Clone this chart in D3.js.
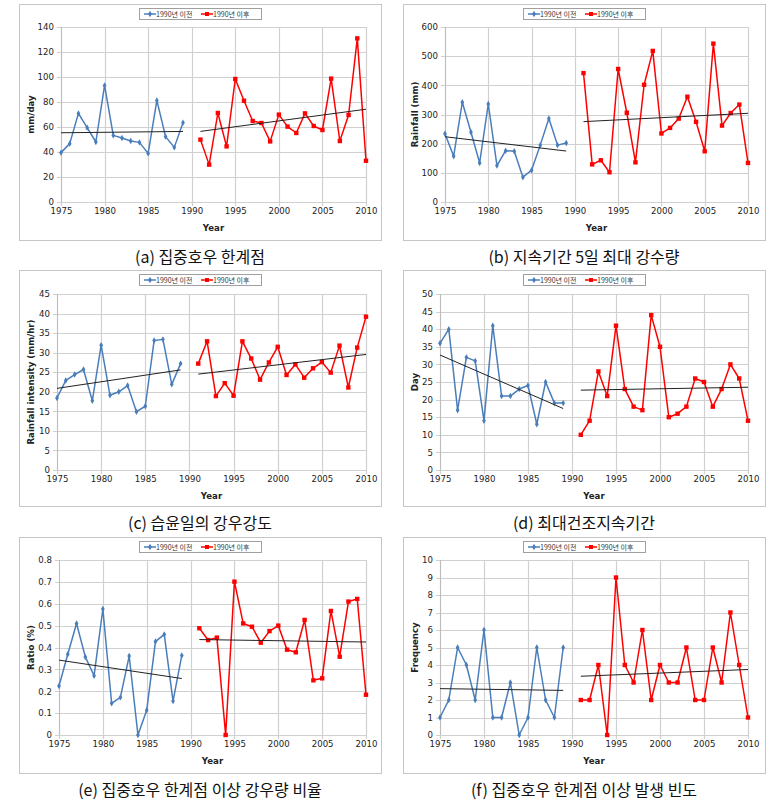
<!DOCTYPE html>
<html>
<head>
<meta charset="utf-8">
<script src="https://cdn.jsdelivr.net/npm/d3@7"></script>
<style>
  html, body { margin: 0; padding: 0; background: #fff; }
  svg { display: block; }
</style>
</head>
<body>
<svg id="chart" width="768" height="802"></svg>
<script>
// Years before and after 1990
const yearsBefore = [1975,1976,1977,1978,1979,1980,1981,1982,1983,1984,1985,1986,1987,1988,1989];
const yearsAfter  = [1991,1992,1993,1994,1995,1996,1997,1998,1999,2000,2001,2002,2003,2004,2005,2006,2007,2008,2009,2010];
const xTicks = [1975,1980,1985,1990,1995,2000,2005,2010];
const legendLabels = ["1990년 이전", "1990년 이후"];

// (a) threshold of heavy rain (mm/day)
const thresholdBefore = [39.5,46.7,70.9,59.5,48,93.3,53.3,51.2,48.8,47.7,38.9,81.3,52.3,43.7,63.5];
const thresholdAfter  = [49.9,29.9,71.2,44.5,98.4,81,64.8,63.2,48.5,69.9,60.3,55.2,70.9,60.8,57.6,98.7,48.8,69.6,130.9,33];
// (b) maximum 5-day rainfall (mm)
const max5dBefore = [234,157,342,239,134,336,125,176,174,85,109,195,286,195,202];
const max5dAfter  = [442,129,143,102,456,306,136,402,518,235,254,286,361,275,174,543,262,305,334,134];
// (c) rainfall intensity on wet days (mm/hr)
const intensityBefore = [18.4,22.9,24.4,25.7,17.7,31.9,19.1,20.0,21.6,14.9,16.3,33.1,33.4,21.9,27.2];
const intensityAfter  = [27.2,32.9,18.9,22.2,19.0,32.9,28.5,23.1,27.5,31.5,24.3,27.0,23.6,26.0,27.6,24.9,31.8,21.1,31.3,39.2];
// (d) maximum consecutive dry days
const dryBefore = [36,40,17,32,31,14,41,21,21,23,24,13,25,19,19];
const dryAfter  = [10,14,28,21,41,23,18,17,44,35,15,16,18,26,25,18,23,30,26,14];
// (e) ratio of rainfall above the threshold
const ratioBefore = [0.224,0.369,0.510,0.357,0.271,0.576,0.145,0.172,0.361,0,0.113,0.427,0.460,0.155,0.364];
const ratioAfter  = [0.488,0.434,0.445,0,0.701,0.510,0.495,0.422,0.475,0.500,0.390,0.378,0.526,0.250,0.259,0.567,0.358,0.610,0.622,0.184];
// (f) frequency of days above the threshold
const freqBefore = [1,2,5,4,2,6,1,1,3,0,1,5,2,1,5];
const freqAfter  = [2,2,4,0,9,4,3,6,2,4,3,3,5,2,2,5,3,7,4,1];

const panels = [
  { caption: "(a) 집중호우 한계점", yTitle: "mm/day", before: thresholdBefore, after: thresholdAfter,
    yMax: 140, yStep: 20, fmt: d => d, frame: [19, 4], plot: [61, 366, 27, 202] },
  { caption: "(b) 지속기간 5일 최대 강수량", yTitle: "Rainfall (mm)", before: max5dBefore, after: max5dAfter,
    yMax: 600, yStep: 100, fmt: d => d, frame: [403, 4], plot: [445, 748, 27, 202] },
  { caption: "(c) 습윤일의 강우강도", yTitle: "Rainfall intensity (mm/hr)", before: intensityBefore, after: intensityAfter,
    yMax: 45, yStep: 5, fmt: d => d, frame: [19, 270], plot: [57, 366, 294, 470] },
  { caption: "(d) 최대건조지속기간", yTitle: "Day", before: dryBefore, after: dryAfter,
    yMax: 50, yStep: 5, fmt: d => d, frame: [403, 270], plot: [440, 748, 294, 470] },
  { caption: "(e) 집중호우 한계점 이상 강우량 비율", yTitle: "Ratio (%)", before: ratioBefore, after: ratioAfter,
    yMax: 0.8, yStep: 0.1, fmt: d => (d === 0 ? "0" : d3.format(".1f")(d)), frame: [19, 537], plot: [59, 366, 560, 735] },
  { caption: "(f) 집중호우 한계점 이상 발생 빈도", yTitle: "Frequency", before: freqBefore, after: freqAfter,
    yMax: 10, yStep: 1, fmt: d => d, frame: [403, 537], plot: [440, 748, 560, 735] }
];

const BLUE = "#4a7ebb";
const RED = "#ff0000";
const GRID = "#d0d0d0";
const TICK_FONT = "'DejaVu Sans', Verdana, sans-serif";
const KR_FONT = "'Noto Sans CJK KR', 'Noto Sans', sans-serif";
const FRAME_W = 362, FRAME_H = 236;

// least-squares trend line over a series
function trend(xs, ys) {
  const mx = d3.mean(xs), my = d3.mean(ys);
  let sxy = 0, sxx = 0;
  xs.forEach((x, i) => { sxy += (x - mx) * (ys[i] - my); sxx += (x - mx) * (x - mx); });
  const b = sxy / sxx, a = my - b * mx;
  return [[xs[0], a + b * xs[0]], [xs[xs.length - 1], a + b * xs[xs.length - 1]]];
}

const svg = d3.select("#chart");

panels.forEach(p => {
  const [fx, fy] = p.frame;
  const [x0, x1, yTop, yBot] = p.plot;
  const g = svg.append("g");

  // chart frame
  g.append("rect").attr("x", fx + 0.5).attr("y", fy + 0.5)
    .attr("width", FRAME_W).attr("height", FRAME_H)
    .attr("fill", "#fff").attr("stroke", "#c6c6c6").attr("stroke-width", 1);

  const x = d3.scaleLinear().domain([1975, 2010]).range([x0, x1]);
  const y = d3.scaleLinear().domain([0, p.yMax]).range([yBot, yTop]);
  const yTicks = d3.range(0, Math.round(p.yMax / p.yStep) + 1).map(i => +(i * p.yStep).toFixed(3));

  // horizontal gridlines
  g.append("g").selectAll("line").data(yTicks).join("line")
    .attr("x1", x0 - 4).attr("x2", x1)
    .attr("y1", d => Math.round(y(d)) + 0.5).attr("y2", d => Math.round(y(d)) + 0.5)
    .attr("stroke", GRID).attr("stroke-width", 1);

  // vertical gridlines
  g.append("g").selectAll("line").data(xTicks).join("line")
    .attr("x1", d => Math.round(x(d)) + 0.5).attr("x2", d => Math.round(x(d)) + 0.5)
    .attr("y1", yTop).attr("y2", yBot + 4)
    .attr("stroke", GRID).attr("stroke-width", 1.2);

  // axis labels via d3 axes
  const yAxis = g.append("g").attr("transform", `translate(${x0},0)`)
    .call(d3.axisLeft(y).tickValues(yTicks).tickFormat(p.fmt).tickSize(0).tickPadding(7));
  const xAxis = g.append("g").attr("transform", `translate(0,${yBot})`)
    .call(d3.axisBottom(x).tickValues(xTicks).tickFormat(d3.format("d")).tickSize(0).tickPadding(6));
  [yAxis, xAxis].forEach(ax => {
    ax.select(".domain").remove();
    ax.selectAll("text").attr("font-family", TICK_FONT).attr("font-size", 8.6).attr("fill", "#222");
  });
  g.append("line").attr("x1", x0 + 0.5).attr("x2", x0 + 0.5).attr("y1", yTop).attr("y2", yBot)
    .attr("stroke", "#bdbdbd");

  // axis titles
  g.append("text").attr("x", (x0 + x1) / 2).attr("y", yBot + 29)
    .attr("text-anchor", "middle").attr("font-family", TICK_FONT)
    .attr("font-size", 8.6).attr("font-weight", "bold").attr("fill", "#222").text("Year");
  g.append("text")
    .attr("transform", `translate(${fx + 15},${(yTop + yBot) / 2}) rotate(-90)`)
    .attr("text-anchor", "middle").attr("font-family", TICK_FONT)
    .attr("font-size", 8.6).attr("font-weight", "bold").attr("fill", "#222").text(p.yTitle);

  const line = d3.line().x(d => x(d[0])).y(d => y(d[1]));
  const before = yearsBefore.map((yr, i) => [yr, p.before[i]]);
  const after = yearsAfter.map((yr, i) => [yr, p.after[i]]);

  // series before 1990
  g.append("path").datum(before).attr("d", line)
    .attr("fill", "none").attr("stroke", BLUE).attr("stroke-width", 1.5).attr("stroke-linejoin", "round");
  g.append("g").selectAll("path").data(before).join("path")
    .attr("transform", d => `translate(${x(d[0])},${y(d[1])})`)
    .attr("d", d3.symbol(d3.symbolDiamond, 12)).attr("fill", BLUE);

  // series after 1990
  g.append("path").datum(after).attr("d", line)
    .attr("fill", "none").attr("stroke", RED).attr("stroke-width", 1.5).attr("stroke-linejoin", "round");
  g.append("g").selectAll("rect").data(after).join("rect")
    .attr("x", d => x(d[0]) - 2.2).attr("y", d => y(d[1]) - 2.2)
    .attr("width", 4.4).attr("height", 4.4).attr("fill", RED);

  // linear trend lines
  [trend(yearsBefore, p.before), trend(yearsAfter, p.after)].forEach(t => {
    g.append("path").datum(t).attr("d", line)
      .attr("fill", "none").attr("stroke", "#222").attr("stroke-width", 1);
  });

  // legend
  const cx = fx + FRAME_W / 2;
  const lg = g.append("g").attr("transform", `translate(${cx - 61},${fy + 4})`);
  lg.append("rect").attr("x", 0.5).attr("y", 0.5).attr("width", 122).attr("height", 11)
    .attr("fill", "#fff").attr("stroke", "#a0a0a0");
  // before
  lg.append("line").attr("x1", 5).attr("x2", 17).attr("y1", 6).attr("y2", 6)
    .attr("stroke", BLUE).attr("stroke-width", 1.5);
  lg.append("path").attr("transform", "translate(11,6)")
    .attr("d", d3.symbol(d3.symbolDiamond, 12)).attr("fill", BLUE);
  lg.append("text").attr("x", 17).attr("y", 8.6).attr("font-family", KR_FONT)
    .attr("font-size", 7).attr("fill", "#333").text(legendLabels[0]);
  // after
  lg.append("line").attr("x1", 62).attr("x2", 74).attr("y1", 6).attr("y2", 6)
    .attr("stroke", RED).attr("stroke-width", 1.5);
  lg.append("rect").attr("x", 66).attr("y", 4).attr("width", 4).attr("height", 4).attr("fill", RED);
  lg.append("text").attr("x", 74).attr("y", 8.6).attr("font-family", KR_FONT)
    .attr("font-size", 7).attr("fill", "#333").text(legendLabels[1]);

  // caption
  g.append("text").attr("x", cx).attr("y", fy + FRAME_H + 23)
    .attr("text-anchor", "middle").attr("font-family", KR_FONT)
    .attr("font-size", 16).attr("fill", "#111").text(p.caption);
});
</script>
</body>
</html>
